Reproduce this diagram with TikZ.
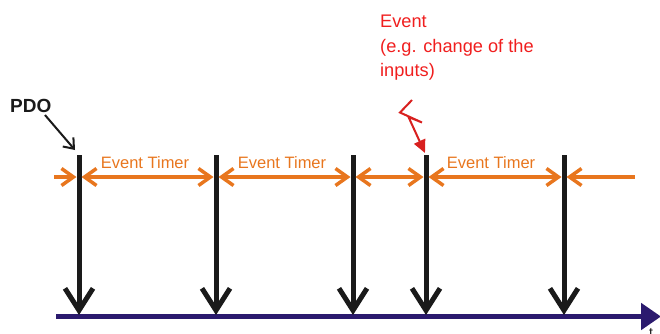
\documentclass[tikz,border=0pt]{standalone}
\usepackage{fontspec}
\setmainfont{Liberation Sans}
\usetikzlibrary{arrows.meta}
\definecolor{evorange}{HTML}{E8761E}
\definecolor{evred}{HTML}{F01E1E}
\definecolor{boltred}{HTML}{D8201F}
\definecolor{axisblue}{HTML}{2B1A6E}
\definecolor{barblack}{HTML}{1A1A1A}
\tikzset{
  bar/.style={barblack, line width=5pt, -{Straight Barb[length=22pt,width=28pt]}},
  timer/.style={evorange, line width=3.5pt},
  otip/.tip={Straight Barb[length=12pt,width=17pt]},
  timerlabel/.style={evorange, font=\fontsize{16.5}{18}\selectfont, inner sep=0pt},
}
\begin{document}
\begin{tikzpicture}[x=1pt,y=-1pt]
\useasboundingbox (0,0) rectangle (660,333);
% bars
\foreach \n/\x in {1/79,2/216,3/353,4/426,5/564}{
  \coordinate (t\n) at (\x,155);
  \coordinate (b\n) at (\x,315);
  \coordinate (m\n) at (\x,177);
}
\coordinate (tl) at (54,177);
\coordinate (tr) at (635,177);
\coordinate (al) at (56,316.5);
\coordinate (ar) at (661,316.5);
% time axis
\draw[axisblue, line width=5.5pt, -{Triangle[length=20pt,width=26pt]}] (al) -- (ar);
\node[anchor=north west, inner sep=0pt, font=\fontsize{14}{16}\selectfont, barblack] (tlabel) at (649,328.5) {t};
% vertical event arrows
\foreach \n in {1,...,5}{
  \draw[bar] (t\n) -- (b\n);
}
% event timer line
\draw[timer, -{otip}] (tl) -- ([xshift=-2.5pt]m1);
\draw[timer, {otip}-{otip}] ([xshift=2.5pt]m1) -- ([xshift=-2.5pt]m2);
\draw[timer, {otip}-{otip}] ([xshift=2.5pt]m2) -- ([xshift=-2.5pt]m3);
\draw[timer, {otip}-{otip}] ([xshift=2.5pt]m3) -- ([xshift=-2.5pt]m4);
\draw[timer, {otip}-{otip}] ([xshift=2.5pt]m4) -- ([xshift=-2.5pt]m5);
\draw[timer, {otip}-] ([xshift=2.5pt]m5) -- (tr);
% labels
\node[timerlabel] (et1) at (145,163) {Event Timer};
\node[timerlabel] (et2) at (282,163) {Event Timer};
\node[timerlabel] (et3) at (491,163) {Event Timer};
% PDO
\node[anchor=base west, inner sep=0pt, font=\fontsize{19}{20}\selectfont\bfseries, barblack] (pdo) at (10,112) {PDO};
\coordinate (pdotip) at (75,150);
\draw[barblack, line width=2pt, -{Straight Barb[length=9pt,width=14pt]}] (45,115) -- (pdotip);
% Event text
\node[anchor=north west, inner sep=0pt, align=left, evred, font=\fontsize{18.2}{24.5}\selectfont] (evt) at (380,15) {Event\\(e.g. change of the\\inputs)};
% lightning bolt
\coordinate (z1) at (412,100);
\coordinate (z2) at (400,112.5);
\coordinate (z3) at (422,122.5);
\coordinate (z4) at (408.5,117);
\coordinate (z5) at (425,153);
\draw[boltred, line width=2pt, line join=miter, -{Triangle[length=13pt,width=12pt]}] (z1) -- (z2) -- (z3) -- (z4) -- (z5);
\end{tikzpicture}
\end{document}
